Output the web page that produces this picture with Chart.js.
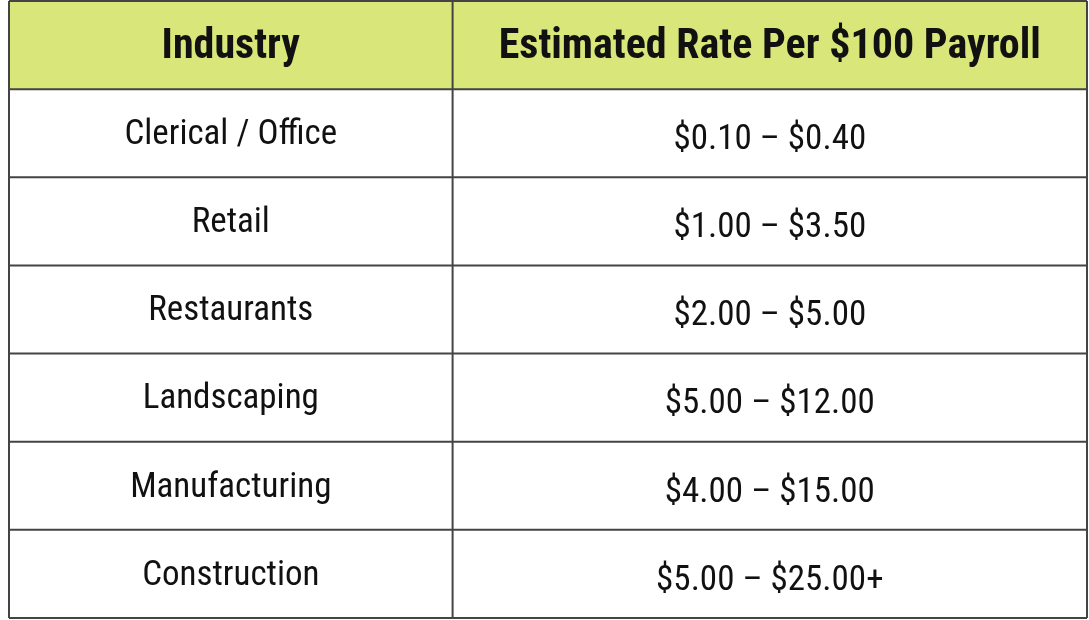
<!DOCTYPE html>
<html><head><meta charset="utf-8">
<script src="https://cdn.jsdelivr.net/npm/chart.js@4/dist/chart.umd.min.js"></script>
<style>html,body{margin:0;padding:0;background:#fff}#wrap{width:1089px;height:620px}</style>
</head><body><div id="wrap"><canvas id="c" width="1089" height="620"></canvas></div>
<script>
const headers = ["Industry", "Estimated Rate Per $100 Payroll"];
const industries = ["Clerical / Office","Retail","Restaurants","Landscaping","Manufacturing","Construction"];
const rateLow = ["$0.10","$1.00","$2.00","$5.00","$4.00","$5.00"];
const rateHigh = ["$0.40","$3.50","$5.00","$12.00","$15.00","$25.00+"];

const FONT = '"Liberation Sans Narrow","Roboto Condensed","Roboto",sans-serif';
const colSplit = 0.4115;

const tablePlugin = {
  id: 'table',
  afterDraw(chart) {
    const ctx = chart.ctx, xs = chart.scales.x, ys = chart.scales.y;
    const nRows = industries.length + 1;
    const xL = xs.getPixelForValue(0), xR = xs.getPixelForValue(1), xM = xs.getPixelForValue(colSplit);
    const yP = i => ys.getPixelForValue(i);
    ctx.save();
    ctx.fillStyle = '#d8e67a';
    ctx.fillRect(xL, yP(0), xR - xL, yP(1) - yP(0));
    ctx.fillStyle = '#111';
    ctx.textAlign = 'center'; ctx.textBaseline = 'middle';
    const cx1 = (xL + xM) / 2, cx2 = (xM + xR) / 2;
    ctx.font = 'bold 42px ' + FONT;
    const hy = (yP(0) + yP(1)) / 2 + 2;
    ctx.fillText(headers[0], cx1, hy);
    ctx.fillText(headers[1], cx2, hy);
    ctx.font = '35px ' + FONT;
    industries.forEach((name, i) => {
      const cy = (yP(i + 1) + yP(i + 2)) / 2 + 2;
      ctx.fillText(name, cx1, cy);
      ctx.fillText(rateLow[i] + ' \u2013 ' + rateHigh[i], cx2, cy + 5);
    });
    ctx.strokeStyle = '#444'; ctx.lineWidth = 2;
    ctx.beginPath();
    for (let i = 0; i <= nRows; i++) { ctx.moveTo(xL, yP(i)); ctx.lineTo(xR, yP(i)); }
    [xL, xM, xR].forEach(x => { ctx.moveTo(x, yP(0)); ctx.lineTo(x, yP(nRows)); });
    ctx.stroke();
    ctx.restore();
  }
};

new Chart(document.getElementById('c'), {
  type: 'scatter',
  data: { datasets: [{ data: [] }] },
  options: {
    responsive: false, animation: false,
    layout: { padding: { left: 9, right: 2, top: 1, bottom: 2 } },
    plugins: { legend: { display: false }, tooltip: { enabled: false } },
    scales: {
      x: { type: 'linear', min: 0, max: 1, display: false },
      y: { type: 'linear', min: 0, max: industries.length + 1, reverse: true, display: false }
    }
  },
  plugins: [tablePlugin]
});
</script></body></html>
